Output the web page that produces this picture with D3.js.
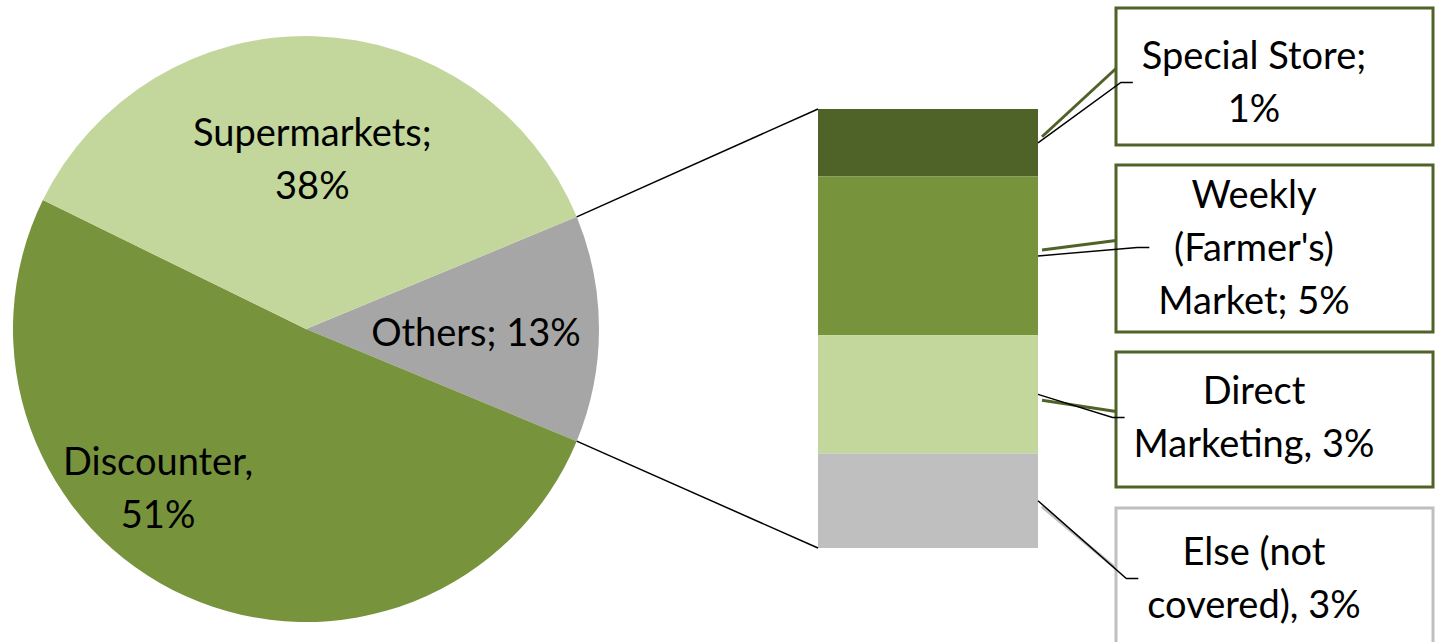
<!DOCTYPE html>
<html>
<head>
<meta charset="utf-8">
<script src="https://cdnjs.cloudflare.com/ajax/libs/d3/7.8.5/d3.min.js"></script>
<style>
    body { margin: 0; background: #fff; }
    svg { display: block; }
    text { font-family: Lato, "Open Sans", sans-serif; fill: #000; }
</style>
</head>
<body>
<div class="cichart"></div>
<script>
// main pie (clockwise, starting with the exploded slice) - slice sizes as drawn
var pieNames = ["Others", "Discounter", "Supermarkets"];
var pieValues = [12.5, 51, 36.5];
var pieLabels = [["Others; 13%"], ["Discounter,", "51%"], ["Supermarkets;", "38%"]];
var pieColors = ["#A6A6A6", "#77933C", "#C3D69B"];

// breakdown of "Others" (stacked bar, top to bottom)
var barNames = ["Special Store", "Weekly (Farmer's) Market", "Direct Marketing", "Else (not covered)"];
var barValues = [2.0, 4.7, 3.5, 2.8];
var barLabels = [["Special Store;", "1%"], ["Weekly", "(Farmer's)", "Market; 5%"], ["Direct", "Marketing, 3%"], ["Else (not", "covered), 3%"]];
var barColors = ["#4F6228", "#77933C", "#C3D69B", "#BFBFBF"];
var boxColors = ["#4F6228", "#4F6228", "#4F6228", "#BFBFBF"];

var width = 1435, height = 642;
var cx = 306, cy = 329, radius = 293;
var barX = 818, barW = 220, barTop = 109, barBottom = 548;
var boxX = 1116, boxW = 317;
var boxTops = [8, 165, 352, 508];
var boxHeights = [137, 167, 135, 137];
var textShift = [6, -1, -2, 2];
var textX = 1254, lineH = 53, fontSize = 38;

var svg = d3.select(".cichart").append("svg")
    .attr("width", width)
    .attr("height", height);

// Pie
var total = d3.sum(pieValues);
var half = Math.PI * pieValues[0] / total;
var pie = d3.pie().sort(null)
    .startAngle(Math.PI / 2 - half)
    .endAngle(Math.PI / 2 - half + 2 * Math.PI);
var arcs = pie(pieValues);
var arc = d3.arc().innerRadius(0).outerRadius(radius);
var labelArc = d3.arc().innerRadius(radius * 0.58).outerRadius(radius * 0.58);
// excel "best fit" moves the discounter label further left
var labelNudge = [[0, 4], [-78, 4], [1, 0]];

var pieG = svg.append("g").attr("transform", "translate(" + cx + "," + cy + ")");

pieG.selectAll("path")
    .data(arcs)
    .enter().append("path")
    .attr("d", arc)
    .style("fill", function (d, i) { return pieColors[i]; });

pieG.selectAll("text.pielabel")
    .data(arcs)
    .enter().append("text")
    .attr("class", "pielabel")
    .attr("text-anchor", "middle")
    .style("font-size", fontSize + "px")
    .each(function (d, i) {
        var c = labelArc.centroid(d);
        var lines = pieLabels[i];
        var t = d3.select(this);
        lines.forEach(function (l, j) {
            t.append("tspan")
                .attr("x", c[0] + labelNudge[i][0])
                .attr("y", c[1] + labelNudge[i][1] + (j - (lines.length - 1) / 2) * lineH)
                .attr("dy", "0.35em")
                .text(l);
        });
    });

// Bar
var y = d3.scaleLinear().domain([0, d3.sum(barValues)]).range([barTop, barBottom]);
var cum = 0;
var segs = barValues.map(function (v) {
    var s = { y0: cum, y1: cum + v };
    cum += v;
    return s;
});

svg.selectAll("rect.seg")
    .data(segs)
    .enter().append("rect")
    .attr("class", "seg")
    .attr("x", barX)
    .attr("width", barW)
    .attr("y", function (d) { return y(d.y0); })
    .attr("height", function (d) { return y(d.y1) - y(d.y0); })
    .style("fill", function (d, i) { return barColors[i]; });

// connector lines pie -> bar
var a0 = arcs[0].startAngle, a1 = arcs[0].endAngle;
svg.append("line")
    .attr("x1", cx + radius * Math.sin(a0)).attr("y1", cy - radius * Math.cos(a0))
    .attr("x2", barX).attr("y2", y(0))
    .style("stroke", "#000").style("stroke-width", 1.5);
svg.append("line")
    .attr("x1", cx + radius * Math.sin(a1)).attr("y1", cy - radius * Math.cos(a1))
    .attr("x2", barX).attr("y2", y(cum))
    .style("stroke", "#000").style("stroke-width", 1.5);

// Label boxes
var barRight = barX + barW;
segs.forEach(function (s, i) {
    var segMid = (y(s.y0) + y(s.y1)) / 2;
    var boxMid = boxTops[i] + boxHeights[i] / 2;
    var textMid = boxMid + textShift[i];
    var lines = barLabels[i];

    var g = svg.append("g");

    // thick leader in the box colour
    g.append("line")
        .attr("x1", barRight + 4)
        .attr("y1", segMid + (boxMid < segMid ? -6 : 6))
        .attr("x2", boxX)
        .attr("y2", boxMid - 8)
        .style("stroke", boxColors[i])
        .style("stroke-width", 3);

    g.append("rect")
        .attr("x", boxX)
        .attr("y", boxTops[i])
        .attr("width", boxW)
        .attr("height", boxHeights[i])
        .style("fill", "#fff")
        .style("stroke", boxColors[i])
        .style("stroke-width", 3);

    var t = g.append("text")
        .attr("text-anchor", "middle")
        .style("font-size", fontSize + "px");
    var maxW = 0;
    lines.forEach(function (l, j) {
        var ts = t.append("tspan")
            .attr("x", textX)
            .attr("y", textMid + (j - (lines.length - 1) / 2) * lineH)
            .attr("dy", "0.35em")
            .text(l);
        maxW = Math.max(maxW, ts.node().getComputedTextLength());
    });

    // thin black leader ending with a small tick next to the text
    var tickEnd = textX - maxW / 2 - 9;
    g.append("polyline")
        .attr("points", [[barRight, segMid], [tickEnd - 12, textMid], [tickEnd, textMid]].join(" "))
        .style("fill", "none")
        .style("stroke", "#000")
        .style("stroke-width", 1.5);
});
</script>
</body>
</html>
